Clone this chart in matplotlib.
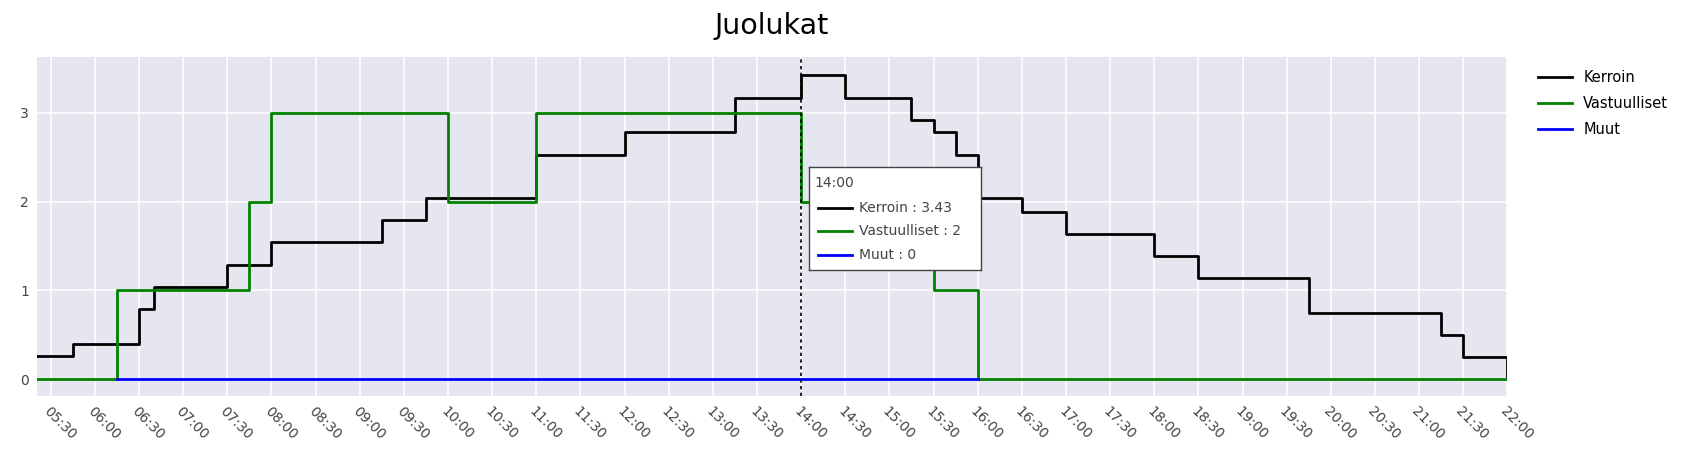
import matplotlib
matplotlib.use("Agg")
import matplotlib.pyplot as plt
import matplotlib.dates as mdates
import pandas as pd

day = "2024-01-01 "
kerroin_t = ["05:20","05:45","06:30","06:40","07:30","08:00","09:15","09:45","11:00","12:00",
             "13:15","14:00","14:30","15:15","15:30","15:45","16:00","16:30","17:00","18:00",
             "18:30","19:45","21:15","21:30","22:00"]
kerroin_v = [0.26,0.39,0.79,1.04,1.29,1.54,1.79,2.04,2.53,2.79,
             3.17,3.43,3.17,2.92,2.79,2.53,2.04,1.88,1.64,1.39,
             1.14,0.75,0.50,0.25,0.0]
vast_t = ["05:20","06:15","07:45","08:00","10:00","11:00","14:00","15:30","16:00","22:00"]
vast_v = [0,1,2,3,2,3,2,1,0,0]
muut_t = ["06:15","16:00"]
muut_v = [0,0]
ticks = pd.date_range(day+"05:30", day+"22:00", freq="30min")
hover_time = "14:00"

def T(lst):
    return pd.to_datetime([day+t for t in lst])

fig = plt.figure(figsize=(16.88,4.68), dpi=100)
ax = fig.add_axes([0.0222,0.154,0.893-0.0222,0.878-0.154])
ax.set_facecolor("#e5e6ef")
ax.grid(True, color="white", lw=1.2)
ax.set_axisbelow(True)
for s in ax.spines.values():
    s.set_visible(False)

ax.step(T(kerroin_t), kerroin_v, where="post", color="black", lw=2, label="Kerroin")
ax.step(T(vast_t), vast_v, where="post", color="green", lw=2, label="Vastuulliset")
ax.step(T(muut_t), muut_v, where="post", color="blue", lw=2, label="Muut")

ht = pd.to_datetime(day+hover_time)
ax.axvline(ht, color="black", ls=(0,(2,2)), lw=1.2)

ax.set_xlim(pd.to_datetime(day+"05:21"), pd.to_datetime(day+"22:00"))
ax.set_ylim(-0.19,3.63)
ax.set_yticks([0,1,2,3])
ax.set_xticks(ticks)
ax.xaxis.set_major_formatter(mdates.DateFormatter("%H:%M"))
ax.tick_params(axis="both", length=0, labelsize=10, colors="#444444", pad=6)
for lab in ax.get_xticklabels():
    lab.set_rotation(-45); lab.set_ha("left"); lab.set_va("top"); lab.set_rotation_mode("anchor")

fig.text(0.457, 0.945, "Juolukat", fontsize=20.5, color="black", ha="center", va="center")

leg = ax.legend(loc="upper left", bbox_to_anchor=(1.012,1.0), frameon=False, fontsize=10.5,
                handlelength=2.3, labelspacing=0.75)

# hover tooltip
ki = kerroin_t.index(hover_time); vi = vast_t.index(hover_time)
box = fig.add_axes([809/1688, 1-270/468, 172/1688, 103/468])
box.set_xticks([]); box.set_yticks([])
box.set_facecolor("white")
for s in box.spines.values():
    s.set_color("#444444"); s.set_linewidth(1)
box.set_xlim(0,1); box.set_ylim(0,1)
box.text(0.03,0.84,hover_time,fontsize=10,color="#444444",va="center")
rows = [("black","Kerroin : %g" % kerroin_v[ki]),("green","Vastuulliset : %g" % vast_v[vi]),("blue","Muut : 0")]
for i,(c,l) in enumerate(rows):
    y = 0.6 - i*0.225
    box.plot([0.05,0.25],[y,y],color=c,lw=2)
    box.text(0.29,y,l,fontsize=10,color="#444444",va="center")

fig.savefig("out.png", dpi=100)
